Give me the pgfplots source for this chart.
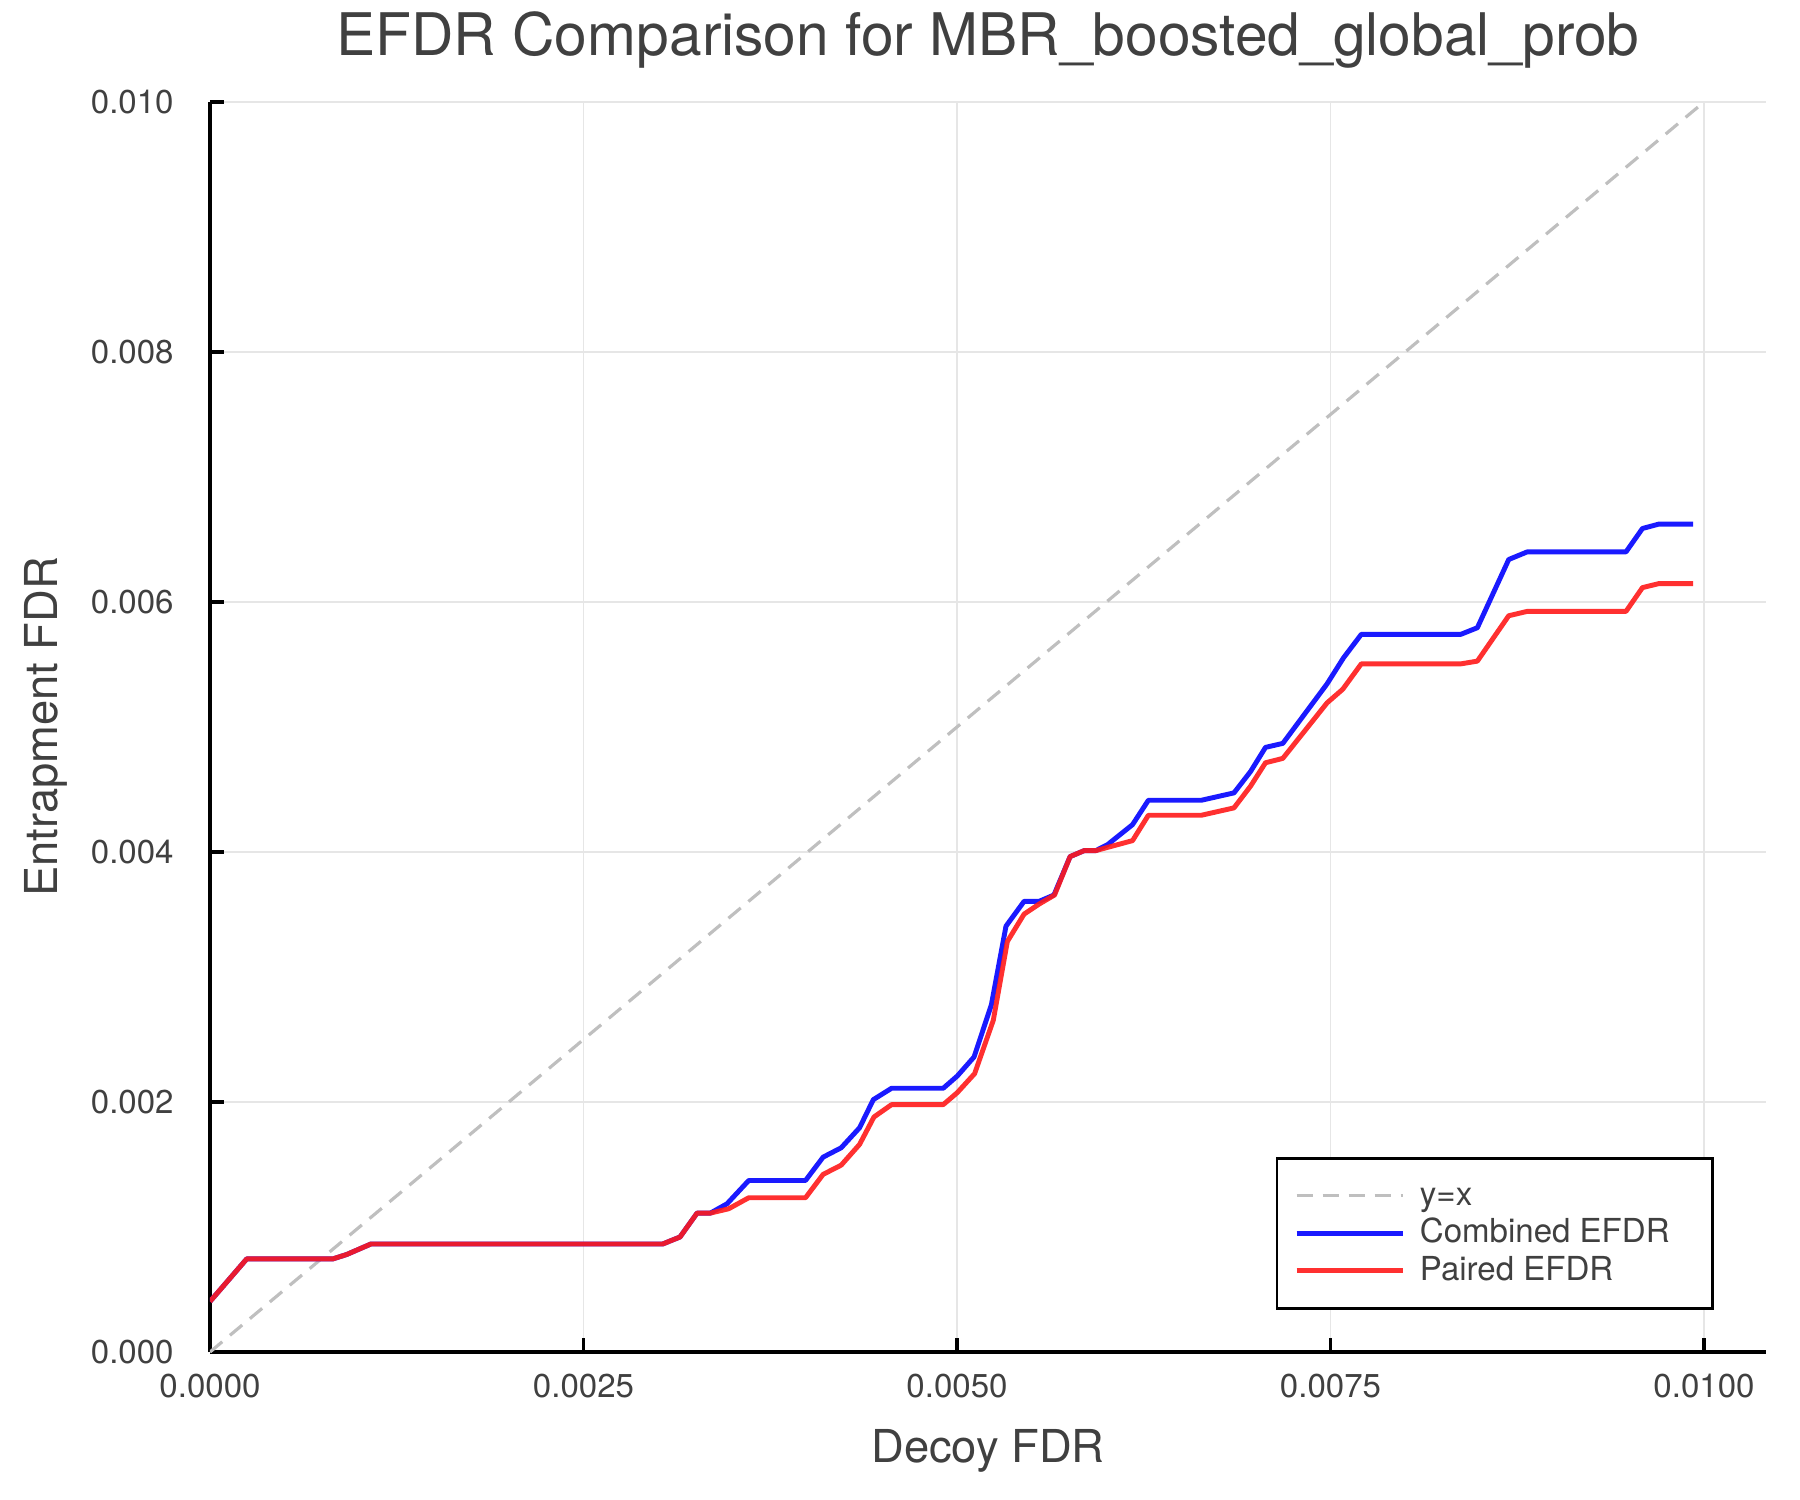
\documentclass[border=0pt]{standalone}
\usepackage{fontspec}
\setmainfont{TeX Gyre Heros}
\usepackage{pgfplots}
\pgfplotsset{compat=1.18}
\definecolor{txt}{HTML}{404040}
\definecolor{cblue}{HTML}{1A1AFF}
\definecolor{cred}{HTML}{FF1A1A}
\definecolor{gridc}{HTML}{E6E6E6}
\begin{document}
\begin{tikzpicture}
\useasboundingbox (-21mm,-14.8mm) rectangle (159mm,135.2mm);
\begin{axis}[
  at={(0,0)}, anchor=south west,
  scale only axis, width=155.6mm, height=125mm,
  xmin=0, xmax=0.010415, ymin=0, ymax=0.010,
  axis lines=left, axis line style={-, line width=0.9pt, black},
  tick align=inside, major tick length=1.4mm,
  tick style={line width=0.9pt, black},
  grid=major, grid style={line width=0.3pt, gridc},
  scaled ticks=false,
  xtick={0,0.0025,0.005,0.0075,0.01},
  xticklabels={0.0000,0.0025,0.0050,0.0075,0.0100},
  ytick={0,0.002,0.004,0.006,0.008,0.010},
  yticklabels={0.000,0.002,0.004,0.006,0.008,0.010},
  ticklabel style={font=\fontsize{9.4}{11}\selectfont, text=txt},
  xticklabel style={anchor=north, yshift=-1mm},
  yticklabel style={anchor=east, xshift=-2.4mm},
  title={EFDR Comparison for MBR\_boosted\_global\_prob},
  every axis title shift=0pt,
  title style={at={(axis description cs:0.5,1.0376)}, anchor=base, yshift=0pt, font=\fontsize{16.7}{20}\selectfont, text=txt},
  xlabel={Decoy FDR},
  xlabel style={at={(axis description cs:0.5,-0.088)}, anchor=base, font=\fontsize{12.9}{15}\selectfont, text=txt},
  ylabel={Entrapment FDR},
  ylabel style={at={(axis description cs:-0.0983,0.5)}, anchor=base, rotate=0, font=\fontsize{12.9}{15}\selectfont, text=txt},
  legend cell align=left,
  legend image code/.code={\draw[#1] (0mm,0mm) -- (10.6mm,0mm);},
  legend style={at={(0.9666,0.0336)}, anchor=south east, draw=black, line width=0.8pt,
    font=\fontsize{9.4}{11}\selectfont, text=txt, inner xsep=1.7mm, inner ysep=1.9mm,
    row sep=0pt, column sep=1.5mm,
    nodes={inner sep=0pt, text height=2.8mm, text depth=0.95mm}},
]
\addplot[color=gray!50, line width=0.9pt, dash pattern=on 1.6mm off 1.0mm] coordinates {(0,0) (0.01,0.01)};
\addlegendentry{y=x}
\addplot[color=cblue, line width=1.4pt, line join=round] coordinates {
(0,0.000404) (0.000246,0.000745) (0.000823,0.000745) (0.000915,0.000780) (0.001077,0.000864)
(0.003030,0.000864) (0.003146,0.000920) (0.003260,0.001111) (0.003349,0.001111) (0.003461,0.001186)
(0.003606,0.001372) (0.003986,0.001372) (0.004104,0.001559) (0.004225,0.001634) (0.004348,0.001794)
(0.004440,0.002019) (0.004562,0.002110) (0.004908,0.002110) (0.005002,0.002208) (0.005114,0.002360)
(0.005230,0.002777) (0.005328,0.003407) (0.005449,0.003605) (0.005549,0.003605) (0.005649,0.003656)
(0.005757,0.003963) (0.005851,0.004011) (0.005929,0.004011) (0.006008,0.004059) (0.006175,0.004219)
(0.006281,0.004414) (0.006636,0.004414) (0.006854,0.004473) (0.006965,0.004644) (0.007065,0.004837)
(0.007181,0.004869) (0.007477,0.005345) (0.007587,0.005553) (0.007706,0.005741) (0.008372,0.005741)
(0.008483,0.005794) (0.008693,0.006340) (0.008817,0.006401) (0.009478,0.006401) (0.009588,0.006588)
(0.009697,0.006623) (0.009928,0.006623)};
\addlegendentry{Combined EFDR\hspace*{2.6mm}}
\addplot[color=cred, line width=1.4pt, line join=round, opacity=0.9] coordinates {
(0,0.000404) (0.000246,0.000745) (0.000823,0.000745) (0.000915,0.000780) (0.001077,0.000864)
(0.003030,0.000864) (0.003146,0.000920) (0.003260,0.001111) (0.003349,0.001111) (0.003472,0.001146)
(0.003606,0.001234) (0.003986,0.001234) (0.004104,0.001421) (0.004225,0.001495) (0.004348,0.001661)
(0.004444,0.001880) (0.004562,0.001979) (0.004908,0.001979) (0.005002,0.002075) (0.005118,0.002227)
(0.005243,0.002654) (0.005337,0.003284) (0.005449,0.003503) (0.005549,0.003583) (0.005653,0.003656)
(0.005757,0.003963) (0.005851,0.004011) (0.005929,0.004011) (0.006008,0.004037) (0.006175,0.004091)
(0.006281,0.004294) (0.006636,0.004294) (0.006854,0.004353) (0.006965,0.004527) (0.007065,0.004714)
(0.007181,0.004749) (0.007477,0.005193) (0.007582,0.005302) (0.007706,0.005505) (0.008372,0.005505)
(0.008483,0.005527) (0.008693,0.005890) (0.008817,0.005925) (0.009478,0.005925) (0.009588,0.006115)
(0.009697,0.006147) (0.009928,0.006147)};
\addlegendentry{Paired EFDR}
\end{axis}
\end{tikzpicture}
\end{document}
